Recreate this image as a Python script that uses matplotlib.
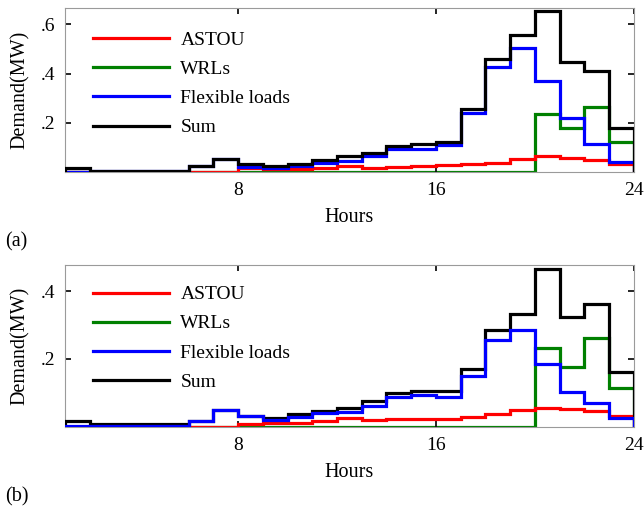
import matplotlib
matplotlib.use("Agg")
import matplotlib.pyplot as plt
import numpy as np

plt.rcParams['font.family'] = ['Liberation Serif', 'DejaVu Serif']

hours = np.arange(1, 25)  # hourly edges, value holds over [h, h+1)

# panel (a)
astou_a = [0, 0, 0, 0, 0, 0, 0, 0.018, 0.014, 0.014, 0.016, 0.023, 0.018, 0.020, 0.023,
           0.027, 0.033, 0.038, 0.053, 0.063, 0.058, 0.050, 0.033]
wrls_a = [0, 0, 0, 0, 0, 0, 0, 0, 0, 0, 0, 0, 0, 0, 0, 0, 0, 0, 0,
          0.236, 0.180, 0.265, 0.120]
flex_a = [0.002, 0.003, 0.003, 0.003, 0.003, 0.026, 0.053, 0.020, 0.018, 0.026, 0.035, 0.043,
          0.063, 0.095, 0.095, 0.111, 0.240, 0.427, 0.503, 0.370, 0.220, 0.115, 0.039]
sum_a = [0.018, 0.006, 0.006, 0.006, 0.006, 0.026, 0.053, 0.034, 0.026, 0.034, 0.047, 0.063,
         0.079, 0.107, 0.115, 0.123, 0.257, 0.459, 0.558, 0.653, 0.446, 0.410, 0.180]

# panel (b)
astou_b = [0, 0, 0, 0, 0, 0, 0, 0.010, 0.013, 0.013, 0.018, 0.025, 0.020, 0.022, 0.022,
           0.022, 0.030, 0.037, 0.050, 0.057, 0.054, 0.047, 0.032]
wrls_b = [0, 0, 0, 0, 0, 0, 0, 0, 0, 0, 0, 0, 0, 0, 0, 0, 0, 0, 0,
          0.233, 0.176, 0.263, 0.116]
flex_b = [0.002, 0.002, 0.002, 0.002, 0.002, 0.018, 0.050, 0.032, 0.020, 0.030, 0.040, 0.045,
          0.062, 0.088, 0.093, 0.088, 0.150, 0.255, 0.285, 0.184, 0.103, 0.070, 0.025]
sum_b = [0.018, 0.008, 0.008, 0.008, 0.008, 0.018, 0.050, 0.032, 0.025, 0.037, 0.047, 0.057,
         0.075, 0.101, 0.106, 0.106, 0.170, 0.285, 0.331, 0.464, 0.324, 0.361, 0.163]

labels = ["ASTOU", "WRLs", "Flexible loads", "Sum"]
colors = ["#ff0000", "#008000", "#0000ff", "#000000"]


def draw_panel(ax, series, ymax, yticks, ytick_labels, zorders, legend_y):
    for vals, lab, col, z in zip(series, labels, colors, zorders):
        ax.stairs(vals, hours, baseline=0, color=col, lw=2.3, label=lab, zorder=z)
    ax.set_xlim(1, 24)
    ax.set_ylim(0, ymax)
    ax.set_xticks([8, 16, 24])
    ax.set_yticks(yticks)
    ax.set_yticklabels(ytick_labels)
    ax.tick_params(direction='in', length=4, width=1.2, labelsize=14, pad=7,
                   top=True, right=True, color='black')
    for sp in ax.spines.values():
        sp.set_color('#9a9a9a')
        sp.set_linewidth(0.8)
    ax.set_xlabel("Hours", fontsize=14.5, labelpad=7)
    ax.set_ylabel("Demand(MW)", fontsize=14.5, labelpad=8)
    handles = [plt.Line2D([], [], color=c, lw=2.3) for c in colors]
    ax.legend(handles, labels, loc='upper left', bbox_to_anchor=(0.049, legend_y),
              frameon=False, fontsize=14, handlelength=3.9, handletextpad=0.6,
              labelspacing=0.59, borderpad=0, borderaxespad=0)


fig = plt.figure(figsize=(6.44, 5.15), dpi=100)
ax1 = fig.add_axes([0.101, 0.666, 0.883, 0.318])
ax2 = fig.add_axes([0.101, 0.171, 0.883, 0.314])

draw_panel(ax1, [astou_a, wrls_a, flex_a, sum_a], 0.665, [0.2, 0.4, 0.6],
           ['.2', '.4', '.6'], [2, 1, 3, 4], 0.858)
draw_panel(ax2, [astou_b, wrls_b, flex_b, sum_b], 0.476, [0.2, 0.4],
           ['.2', '.4'], [2, 1, 4, 3], 0.873)

fig.text(0.008, 1 - 242 / 515, "(a)", fontsize=14.5, va='center')
fig.text(0.008, 1 - 497 / 515, "(b)", fontsize=14.5, va='center')

fig.savefig("out.png", dpi=100)
